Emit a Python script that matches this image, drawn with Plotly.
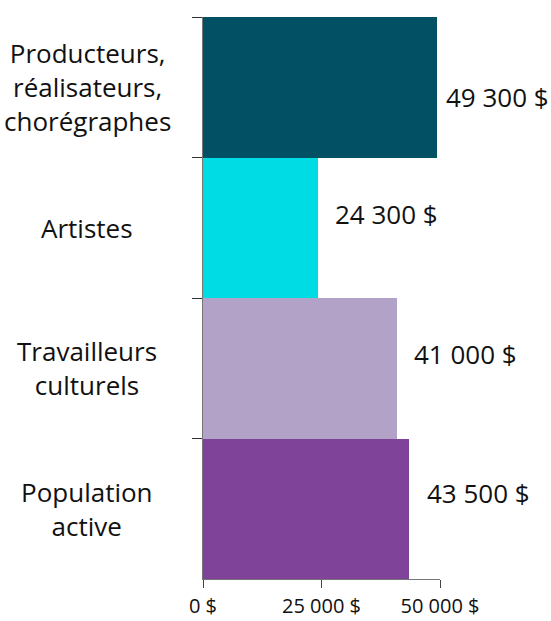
import plotly.graph_objects as go

categories = [
    "Producteurs,<br>réalisateurs,<br>chorégraphes",
    "Artistes",
    "Travailleurs<br>culturels",
    "Population<br>active",
]
values = [49300, 24300, 41000, 43500]
colors = ["#025064", "#00DCE3", "#B3A2C8", "#7F4499"]
tick_vals = [0, 25000, 50000]
tick_text = ["0 $", "25 000 $", "50 000 $"]

# label nudges, as placed in the original
label_dx = [7, 15, 15, 16]
label_dy = [-10, 14, 14, 16]

fig = go.Figure(
    go.Bar(
        x=values,
        y=categories,
        orientation="h",
        marker=dict(color=colors, line=dict(width=0)),
    )
)

for cat, v, dx, dy in zip(categories, values, label_dx, label_dy):
    fig.add_annotation(
        x=v, y=cat, xref="x", yref="y",
        text=f"{v:,}".replace(",", " ") + " $",
        showarrow=False, xanchor="left", yanchor="middle",
        xshift=dx, yshift=dy,
        font=dict(size=26, color="#111111"),
    )
    fig.add_annotation(
        x=0, y=cat, xref="x", yref="y",
        text=cat, showarrow=False, align="center",
        xanchor="center", yanchor="middle", xshift=-116,
        font=dict(size=26, color="#111111"),
    )

fig.update_layout(
    width=551,
    height=621,
    bargap=0,
    showlegend=False,
    font=dict(family="Open Sans", size=20, color="#111111"),
    margin=dict(l=203, r=111, t=17, b=42),
    paper_bgcolor="white",
    plot_bgcolor="white",
)

fig.update_xaxes(
    range=[0, 50000],
    tickvals=tick_vals,
    ticktext=tick_text,
    ticks="outside",
    ticklen=8,
    tickcolor="#444444",
    ticklabelstandoff=1,
    showline=True,
    linecolor="#777777",
    showgrid=False,
    zeroline=False,
    automargin=False,
)

fig.update_yaxes(
    autorange="reversed",
    showticklabels=False,
    ticks="outside",
    tickson="boundaries",
    ticklen=10,
    tickcolor="#333333",
    showline=True,
    linecolor="#777777",
    showgrid=False,
    automargin=False,
)

# drop the page's default body margin so the figure fills the window
fig.write_html(
    "out.html",
    config={"displayModeBar": False},
    post_script="document.body.style.margin = '0';",
)
